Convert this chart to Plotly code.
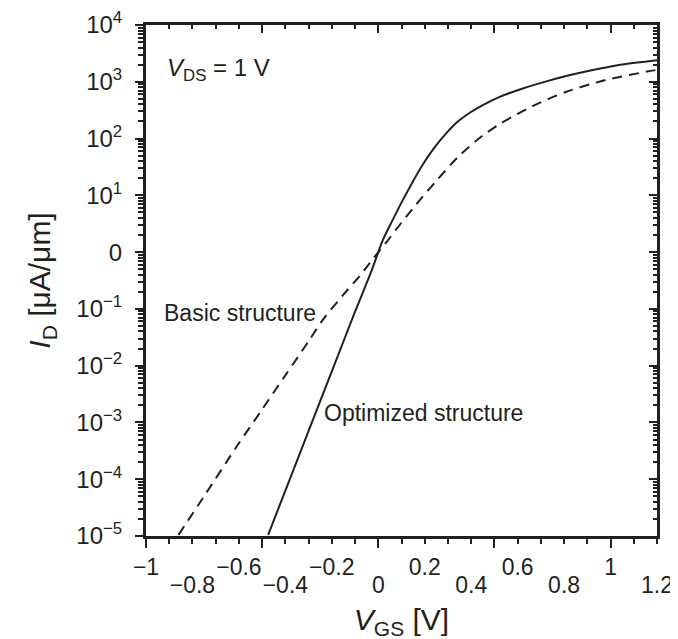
import plotly.graph_objects as go

# ---- data ----
vgs_opt = [-0.474, -0.4, -0.3, -0.2, -0.1, -0.03, 0.02, 0.06, 0.106, 0.15, 0.191, 0.24,
           0.292, 0.34, 0.392, 0.45, 0.52, 0.606, 0.735, 0.85, 0.95, 1.05, 1.2]
logid_opt = [-4.98, -4.20, -3.15, -2.10, -1.05, -0.34, 0.215, 0.55, 0.92, 1.25, 1.54, 1.83,
             2.09, 2.29, 2.45, 2.59, 2.73, 2.86, 3.02, 3.14, 3.23, 3.305, 3.38]

vgs_basic = [-0.86, -0.75, -0.609, -0.5, -0.4, -0.3, -0.238, -0.15, -0.08, -0.023, 0.04,
             0.077, 0.163, 0.249, 0.349, 0.449, 0.52, 0.578, 0.664, 0.807, 0.978, 1.157, 1.2]
logid_basic = [-4.98, -4.30, -3.42, -2.77, -2.17, -1.57, -1.19, -0.75, -0.42, -0.12, 0.20,
               0.40, 0.84, 1.25, 1.70, 2.05, 2.25, 2.385, 2.57, 2.82, 3.03, 3.18, 3.21]

id_opt = [10 ** v for v in logid_opt]
id_basic = [10 ** v for v in logid_basic]

x_range = [-1, 1.2]
y_exp = [-5, -4, -3, -2, -1, 0, 1, 2, 3, 4]
y_ticktext = ["10<sup>−5</sup>", "10<sup>−4</sup>", "10<sup>−3</sup>", "10<sup>−2</sup>",
              "10<sup>−1</sup>", "0", "10<sup>1</sup>", "10<sup>2</sup>", "10<sup>3</sup>",
              "10<sup>4</sup>"]
x_upper_vals = [-1, -0.6, -0.2, 0.2, 0.6, 1]
x_upper_text = ["−1", "−0.6", "−0.2", "0.2", "0.6", "1"]
x_lower_vals = [-0.8, -0.4, 0, 0.4, 0.8, 1.2]
x_lower_text = ["−0.8", "−0.4", "0", "0.4", "0.8", "1.2"]
x_major = [-1, -0.5, 0, 0.5, 1]

y_tickvals = [10.0 ** e for e in y_exp]
y_minor = [m * 10.0 ** e for e in y_exp[:-1] for m in range(2, 10)]

INK = "#231f20"
FONT = "Liberation Sans, Arial, Helvetica, sans-serif"

fig = go.Figure()
fig.add_trace(go.Scatter(x=vgs_opt, y=id_opt, mode="lines", line=dict(color=INK, width=2),
                         line_shape="spline", line_smoothing=0.8,
                         name="Optimized structure", showlegend=False))
fig.add_trace(go.Scatter(x=vgs_basic, y=id_basic, mode="lines",
                         line=dict(color=INK, width=2, dash="10px,7px"),
                         line_shape="spline", line_smoothing=0.8,
                         name="Basic structure", showlegend=False))
# empty traces so that the overlaid frame / label axes are drawn
for xa, ya in [("x2", "y2"), ("x3", "y"), ("x4", "y")]:
    fig.add_trace(go.Scatter(x=[None], y=[None], xaxis=xa, yaxis=ya, mode="lines",
                             showlegend=False, hoverinfo="skip"))

common_x = dict(range=x_range, showgrid=False, zeroline=False, automargin=False)

# the page body adds an 8px offset, so margins are reduced by 8 on left/top
fig.update_layout(
    template="none",
    width=678, height=639,
    margin=dict(l=138, r=29, t=17, b=111),
    paper_bgcolor="white", plot_bgcolor="white",
    font=dict(family=FONT, color=INK, size=22),
    showlegend=False,
    xaxis=dict(**common_x, showline=True, linewidth=3, linecolor=INK,
               ticks="outside", tickmode="array", tickvals=x_major, ticklen=9,
               tickwidth=2, tickcolor=INK, showticklabels=False,
               minor=dict(ticks="outside", ticklen=5, tickwidth=2, tickcolor=INK,
                          dtick=0.1, tick0=-1, showgrid=False),
               title=dict(text="<i>V</i><sub>GS</sub> [V]", font=dict(size=30), standoff=62)),
    xaxis2=dict(**common_x, overlaying="x", side="top", anchor="y2", showline=True,
                linewidth=3, linecolor=INK, ticks="inside", tickmode="array",
                tickvals=x_major, ticklen=8, tickwidth=2, tickcolor=INK,
                showticklabels=False,
                minor=dict(ticks="inside", ticklen=4, tickwidth=2, tickcolor=INK,
                           dtick=0.1, tick0=-1, showgrid=False)),
    xaxis3=dict(**common_x, overlaying="x", side="bottom", anchor="y", showline=False,
                ticks="", tickmode="array", tickvals=x_upper_vals, ticktext=x_upper_text,
                tickfont=dict(size=23), ticklabelstandoff=15),
    xaxis4=dict(**common_x, overlaying="x", side="bottom", anchor="y", showline=False,
                ticks="", tickmode="array", tickvals=x_lower_vals, ticktext=x_lower_text,
                tickfont=dict(size=23), ticklabelstandoff=33),
    yaxis=dict(type="log", range=[-5, 4], showgrid=False, zeroline=False, showline=True,
               automargin=False,
               linewidth=3, linecolor=INK, ticks="outside", tickmode="array",
               tickvals=y_tickvals, ticktext=y_ticktext, ticklen=8, tickwidth=2,
               tickcolor=INK, tickfont=dict(size=24), ticklabelstandoff=8,
               minor=dict(ticks="outside", ticklen=5, tickwidth=1.5, tickcolor=INK,
                          tickmode="array", tickvals=y_minor, showgrid=False),
               title=dict(text="<i>I</i><sub>D</sub> [μA/μm]", font=dict(size=30), standoff=17)),
    yaxis2=dict(type="log", range=[-5, 4], overlaying="y", side="right", anchor="x2",
                automargin=False,
                showgrid=False, zeroline=False, showline=True, linewidth=3, linecolor=INK,
                ticks="inside", tickmode="array", tickvals=y_tickvals, ticklen=8,
                tickwidth=2, tickcolor=INK, showticklabels=False,
                minor=dict(ticks="inside", ticklen=4, tickwidth=1.5, tickcolor=INK,
                           tickmode="array", tickvals=y_minor, showgrid=False)),
    annotations=[
        dict(text="<i>V</i><sub>DS</sub> = 1 V", xref="paper", yref="paper",
             x=0.037, y=0.912, xanchor="left", yanchor="middle", showarrow=False,
             font=dict(size=24, color=INK)),
        dict(text="Basic structure", xref="paper", yref="paper",
             x=0.031, y=0.436, xanchor="left", yanchor="middle", showarrow=False,
             font=dict(size=23, color=INK)),
        dict(text="Optimized structure", xref="paper", yref="paper",
             x=0.344, y=0.241, xanchor="left", yanchor="middle", showarrow=False,
             font=dict(size=23, color=INK)),
    ],
)

fig.write_html("out.html")
